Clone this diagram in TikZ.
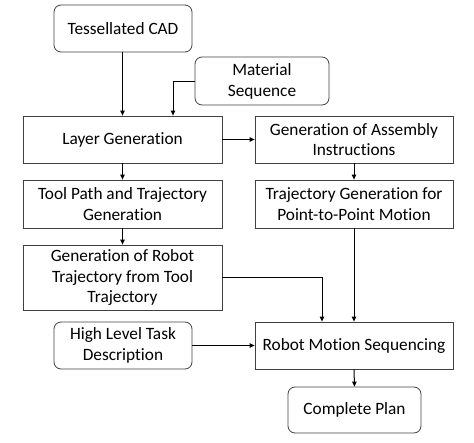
\documentclass[tikz,border=0pt]{standalone}
\usepackage{fontspec}
\setmainfont{Carlito}[Ligatures={NoCommon}]
\usetikzlibrary{arrows.meta}
\begin{document}
\begin{tikzpicture}[x=1pt,y=-1pt,
  box/.style={draw=black!75,line width=0.8pt,align=center,inner sep=0pt,
    font=\fontsize{17.3}{20.8}\selectfont},
  rbox/.style={box,rounded corners=7pt},
  arr/.style={line width=1pt,-{Triangle[length=5pt,width=4.5pt]}}]
\useasboundingbox (0,0) rectangle (474,442);
\node[rbox,minimum width=138pt,minimum height=47pt] (cad) at (123,28.5) {Tessellated CAD};
\node[rbox,minimum width=134pt,minimum height=48pt] (mat) at (262,81) {Material\\Sequence};
\node[box,minimum width=199pt,minimum height=47pt] (layer) at (122.5,139.5) {Layer Generation};
\node[box,minimum width=198pt,minimum height=47pt] (asm) at (354,139.5) {Generation of Assembly\\Instructions};
\node[box,minimum width=199pt,minimum height=48pt] (tool) at (122.5,204) {Tool Path and Trajectory\\Generation};
\node[box,minimum width=198pt,minimum height=48pt] (ptp) at (354,204) {Trajectory Generation for\\Point-to-Point Motion};
\node[box,minimum width=199pt,minimum height=65pt] (robtraj) at (122.5,277.5) {Generation of Robot\\Trajectory from Tool\\Trajectory};
\node[rbox,minimum width=138pt,minimum height=47pt] (hl) at (123,345.5) {High Level Task\\Description};
\node[box,minimum width=198pt,minimum height=47pt] (rms) at (354,345.5) {Robot Motion Sequencing};
\node[rbox,minimum width=133pt,minimum height=46pt] (plan) at (354.5,410) {Complete Plan};
\draw[arr] (cad.south -| layer.north) -- (layer.north);
\coordinate (mk) at (173,81);
\draw[arr] (mat.west) -- (mk) -- (mk |- layer.north);
\draw[arr] (layer.east) -- (asm.west);
\draw[arr] (asm.south) -- (ptp.north);
\draw[arr] (layer.south) -- (tool.north);
\draw[arr] (tool.south) -- (robtraj.north);
\draw[arr] (ptp.south) -- (rms.north);
\coordinate (rk) at (322,277);
\draw[arr] (robtraj.east |- rk) -- (rk) -- (rk |- rms.north);
\draw[arr] (hl.east) -- (rms.west);
\draw[arr] (rms.south) -- (plan.north);
\end{tikzpicture}
\end{document}
